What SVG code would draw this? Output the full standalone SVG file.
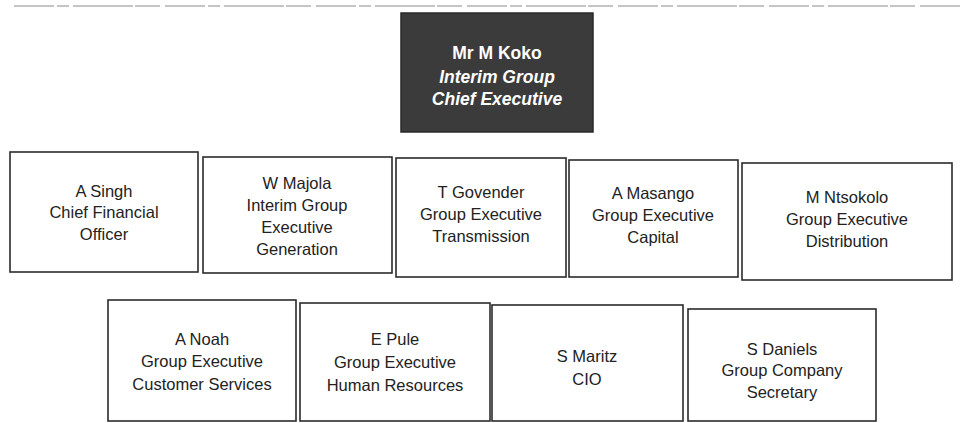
<svg xmlns="http://www.w3.org/2000/svg" width="965" height="423" viewBox="0 0 965 423">
<style>
.box{fill:#ffffff;stroke:#2b2b2b;stroke-width:1.6}
.ceo{fill:#3b3b3b;stroke:#2a2a2a;stroke-width:1.5}
.t{font-family:"Liberation Sans",Arial,sans-serif;font-size:16.5px;fill:#222;text-anchor:middle}
.w{font-family:"Liberation Sans",Arial,sans-serif;font-size:17.5px;font-weight:bold;fill:#fff;text-anchor:middle}
.wi{font-style:italic}
.scan{stroke:#8a8a8a;stroke-width:1;fill:none}
</style>
<rect width="965" height="423" fill="#ffffff"/>
<path class="scan" d="M14 6 H960" stroke-dasharray="40 3 12 4 60 2 25 5"/>
<g id="connectors"></g>
<g id="ceo">
<rect class="ceo" x="401" y="13" width="192" height="119"/>
<text class="w" x="497" y="59">Mr M Koko</text>
<text class="w wi" x="497" y="83">Interim Group</text>
<text class="w wi" x="497" y="105">Chief Executive</text>
</g>
<g id="singh">
<rect class="box" x="10" y="152" width="188" height="120"/>
<text class="t" x="104" y="197">A Singh</text>
<text class="t" x="104" y="218">Chief Financial</text>
<text class="t" x="104" y="240">Officer</text>
</g>
<g id="majola">
<rect class="box" x="203" y="157" width="189" height="116"/>
<text class="t" x="297" y="189">W Majola</text>
<text class="t" x="297" y="211">Interim Group</text>
<text class="t" x="297" y="233">Executive</text>
<text class="t" x="297" y="255">Generation</text>
</g>
<g id="govender">
<rect class="box" x="396" y="158" width="170" height="119"/>
<text class="t" x="481" y="198">T Govender</text>
<text class="t" x="481" y="220">Group Executive</text>
<text class="t" x="481" y="242">Transmission</text>
</g>
<g id="masango">
<rect class="box" x="569" y="160" width="169" height="117"/>
<text class="t" x="653" y="199">A Masango</text>
<text class="t" x="653" y="221">Group Executive</text>
<text class="t" x="653" y="243">Capital</text>
</g>
<g id="ntsokolo">
<rect class="box" x="742" y="163" width="210" height="117"/>
<text class="t" x="847" y="203">M Ntsokolo</text>
<text class="t" x="847" y="225">Group Executive</text>
<text class="t" x="847" y="247">Distribution</text>
</g>
<g id="noah">
<rect class="box" x="108" y="300" width="188" height="121"/>
<text class="t" x="202" y="345">A Noah</text>
<text class="t" x="202" y="367">Group Executive</text>
<text class="t" x="202" y="390">Customer Services</text>
</g>
<g id="pule">
<rect class="box" x="300" y="303" width="190" height="118"/>
<text class="t" x="395" y="345">E Pule</text>
<text class="t" x="395" y="368">Group Executive</text>
<text class="t" x="395" y="391">Human Resources</text>
</g>
<g id="maritz">
<rect class="box" x="492" y="305" width="191" height="116"/>
<text class="t" x="587" y="362">S Maritz</text>
<text class="t" x="587" y="385">CIO</text>
</g>
<g id="daniels">
<rect class="box" x="688" y="309" width="188" height="112"/>
<text class="t" x="782" y="355">S Daniels</text>
<text class="t" x="782" y="376">Group Company</text>
<text class="t" x="782" y="398">Secretary</text>
</g>
</svg>
